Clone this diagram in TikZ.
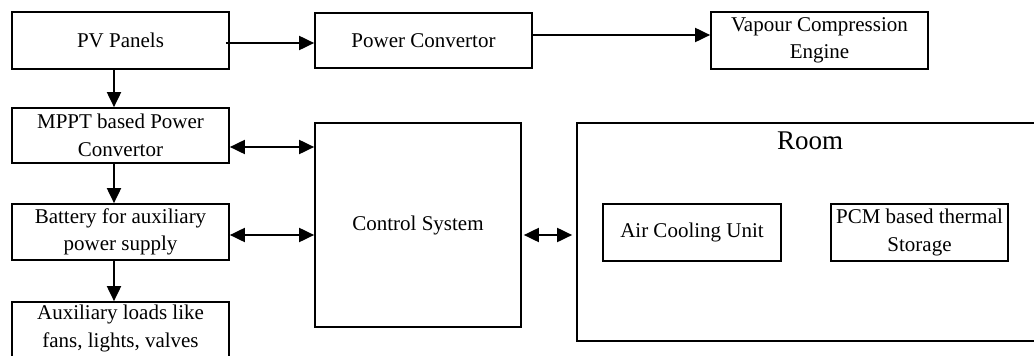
\documentclass[tikz,border=0pt]{standalone}
\usepackage{fontspec}
\setmainfont{Liberation Serif}
\usetikzlibrary{arrows.meta}
\tikzset{
  box/.style={draw, line width=1.7pt, inner sep=0pt, align=center, font=\fontsize{21}{27.5}\selectfont},
  lbl/.style={inner sep=0pt, align=center, font=\fontsize{21}{27.5}\selectfont},
  tip/.tip={Triangle[length=15pt,width=14pt]},
  arr/.style={line width=1.9pt, -tip},
  darr/.style={line width=1.9pt, tip-tip}
}
\begin{document}
\begin{tikzpicture}[x=1pt,y=-1pt]
\useasboundingbox (0,0) rectangle (1034,356);
\clip (0,0) rectangle (1034,356);
% top row
\node[box, minimum width=217pt, minimum height=57pt] (pv) at (120.5,40.5) {PV Panels};
\node[box, minimum width=217pt, minimum height=55pt] (pc) at (423.5,40.5) {Power Convertor};
\node[box, minimum width=217pt, minimum height=57pt] (vce) at (819.5,40.5) {Vapour Compression\\Engine};
% left column
\node[box, minimum width=217pt, minimum height=55pt] (mppt) at (120.5,135.5) {MPPT based Power\\Convertor};
\node[box, minimum width=217pt, minimum height=56pt] (bat) at (120.5,232) {Battery for auxiliary\\power supply};
\node[draw, line width=1.7pt, minimum width=217pt, minimum height=80pt, inner sep=0pt] (aux) at (120.5,342) {};
\node[lbl, anchor=north] (auxt) at (120.5,305) {Auxiliary loads like\\fans, lights, valves};
% control
\node[box, minimum width=206pt, minimum height=204pt] (ctrl) at (418,225) {Control System};
% room
\node[draw, line width=1.7pt, minimum width=500pt, minimum height=218pt, inner sep=0pt] (room) at (827,232) {};
\node[lbl, font=\fontsize{27}{30}\selectfont] (roomt) at (810,141) {Room};
\node[box, minimum width=178pt, minimum height=57pt] (air) at (692,232.5) {Air Cooling Unit};
\node[box, minimum width=177pt, minimum height=57pt] (pcm) at (919.5,232.5) {PCM based thermal\\Storage};
% connectors
\draw[arr] ([xshift=-4pt,yshift=-2.5pt]pv.east) -- ([yshift=-2.5pt]pc.west);
\draw[arr] ([yshift=5.5pt]pc.east) -- ([yshift=5.5pt]vce.west);
\draw[arr] ([xshift=-6.5pt]pv.south) -- ([xshift=-6.5pt]mppt.north);
\draw[arr] ([xshift=-6.5pt]mppt.south) -- ([xshift=-6.5pt]bat.north);
\draw[arr] ([xshift=-6.5pt]bat.south) -- ([xshift=-6.5pt]aux.north);
\draw[darr] ([yshift=-11.5pt]mppt.east) -- (ctrl.west |- 0,147);
\draw[darr] ([yshift=-3pt]bat.east) -- (ctrl.west |- 0,235);
\draw[darr] ([xshift=2pt]ctrl.east |- 0,235) -- ([xshift=-4pt]room.west |- 0,235);
\end{tikzpicture}
\end{document}
